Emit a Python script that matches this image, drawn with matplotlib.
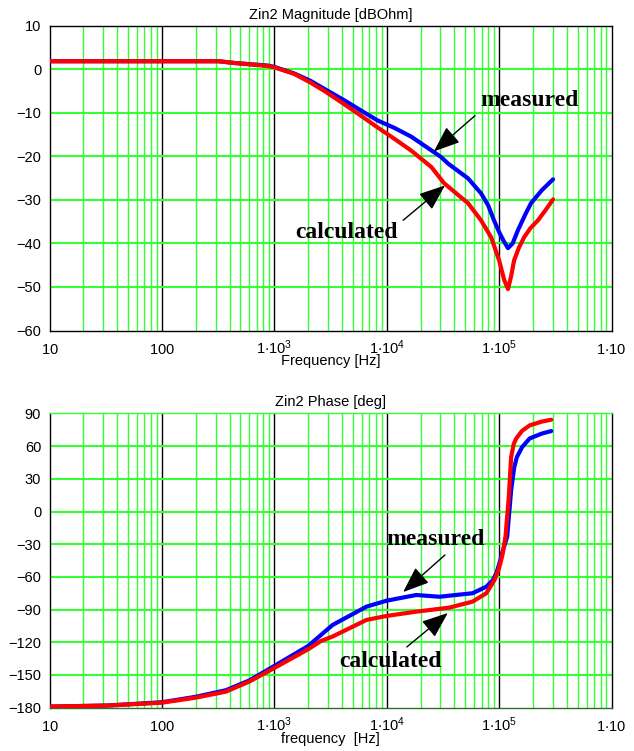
import matplotlib
matplotlib.use("Agg")
import matplotlib.pyplot as plt
import numpy as np

plt.rcParams["font.family"] = ["Liberation Sans", "DejaVu Sans"]
plt.rcParams["mathtext.fontset"] = "custom"
plt.rcParams["mathtext.rm"] = "Liberation Sans"
plt.rcParams["font.size"] = 10

## Data
# Magnitude [dBOhm]
mag_meas_f = [10, 320, 440, 880, 1000, 1500, 2100, 2900, 4150, 5900, 8300, 11700,
              16500, 23200, 30500, 35200, 53000, 69000, 80000, 90000, 100000,
              109000, 120000, 132000, 147000, 170000, 192000, 240000, 302000]
mag_meas = [1.8, 1.8, 1.4, 0.8, 0.5, -1.0, -2.7, -4.8, -7.1, -9.5, -11.8, -13.5,
            -15.5, -18.1, -20.2, -21.7, -25.1, -28.5, -31.3, -34.7, -37.4,
            -39.3, -41.1, -40.0, -37.0, -33.5, -30.8, -27.8, -25.3]
mag_calc_f = [10, 320, 440, 880, 1000, 1500, 2100, 2900, 4150, 5900, 8300, 11700,
              16500, 25000, 32400, 53000, 69000, 85000, 100000, 111000, 120000,
              128000, 136000, 150000, 167000, 190000, 222000, 260000, 302000]
mag_calc = [1.8, 1.8, 1.4, 0.7, 0.4, -1.1, -3.1, -5.3, -8.0, -10.7, -13.4, -16.0,
            -18.7, -22.5, -26.2, -30.8, -34.7, -38.6, -43.9, -48.4, -50.5,
            -47.5, -43.9, -41.0, -38.6, -36.5, -34.7, -32.3, -29.9]

# Phase [deg]
ph_meas_f = [10, 33, 100, 200, 370, 600, 1000, 2000, 2600, 3300, 6600, 10000,
             18300, 29400, 58000, 77000, 88000, 95000, 101000, 108000, 118000,
             128000, 136000, 144000, 160000, 187000, 240000, 291000]
ph_meas = [-179, -178, -175, -170, -164, -155, -141.7, -123.4, -113.3, -104.1,
           -87.3, -81.8, -76.6, -78.2, -75, -69, -63, -56, -47, -36, -23, 19.5,
           40, 50, 59, 67, 71.5, 73.8]
ph_calc_f = [10, 33, 100, 200, 370, 600, 1000, 2000, 2600, 3300, 6600, 10000,
             18300, 36000, 58000, 77000, 91000, 100000, 107000, 114000, 122000,
             128000, 135000, 142000, 160000, 187000, 240000, 291000]
ph_calc = [-179, -178, -175.4, -170.8, -165.3, -156, -143.6, -126.4, -118.8,
           -114.7, -99.5, -95.8, -91.9, -88.2, -82.7, -75, -62.8, -52, -40, -23,
           13.4, 50, 62, 67, 74, 79, 82.5, 84.2]

xticks = [10, 100, 1e3, 1e4, 1e5, 1e6]
xticklabels = [r"$\mathregular{10}$", r"$\mathregular{100}$",
               r"$\mathregular{1{\cdot}10^{3}}$", r"$\mathregular{1{\cdot}10^{4}}$",
               r"$\mathregular{1{\cdot}10^{5}}$", r"$\mathregular{1{\cdot}10}$"]
mag_ticks = [10, 0, -10, -20, -30, -40, -50, -60]
ph_ticks = [90, 60, 30, 0, -30, -60, -90, -120, -150, -180]

GREEN = "#33ff33"


def style_axes(ax, yticks, title, xlabel):
    ax.set_xscale("log")
    ax.set_xlim(10, 1e6)
    ax.set_ylim(yticks[-1], yticks[0])
    # minor green / decade black vertical grid
    for dec in [10, 100, 1e3, 1e4, 1e5]:
        for m in range(2, 10):
            ax.axvline(dec * m, color=GREEN, lw=1.0, zorder=1)
        if dec > 10:
            ax.axvline(dec, color="black", lw=1.0, zorder=1)
    for yv in yticks[1:-1]:
        ax.axhline(yv, color=GREEN, lw=1.5, zorder=1)
    ax.set_xticks(xticks)
    ax.set_xticklabels(xticklabels)
    ax.minorticks_off()
    ax.set_yticks(yticks)
    ax.tick_params(length=0, labelsize=10.5, pad=6)
    ax.tick_params(axis="x", pad=17)
    for lab in ax.get_xticklabels():
        lab.set_verticalalignment("baseline")
    for s in ax.spines.values():
        s.set_color("black")
        s.set_linewidth(1.0)
    ax.set_title(title, fontsize=10.5, pad=5)
    ax.set_xlabel(xlabel, fontsize=10.5, labelpad=-2)


fig = plt.figure(figsize=(6.34, 7.51), dpi=100)
ax1 = fig.add_axes([49.5 / 634, 1 - 330.5 / 751, 562 / 634, 305 / 751])
ax2 = fig.add_axes([49.5 / 634, 1 - 707.7 / 751, 562 / 634, 294.3 / 751])

line = dict(lw=3, solid_joinstyle="round", solid_capstyle="round")

## Magnitude
style_axes(ax1, mag_ticks, "Zin2 Magnitude [dBOhm]", "Frequency [Hz]")
ax1.plot(mag_meas_f, mag_meas, color="#0000ff", zorder=3, **line)
ax1.plot(mag_calc_f, mag_calc, color="#ff0000", zorder=4, **line)

aprops = dict(arrowstyle="-|>,head_length=0.9,head_width=0.35", color="black",
              lw=1.0, mutation_scale=18, shrinkA=0, shrinkB=0)
lbl = dict(fontfamily="Liberation Serif", fontweight="bold", fontsize=17,
           ha="center", va="center", zorder=6)

ax1.text(1.88e5, -7.3, "measured", **lbl)
ax1.annotate("", xy=(2.63e4, -18.9), xytext=(6.1e4, -10.7), arrowprops=aprops, zorder=6)
ax1.text(4.43e3, -37.4, "calculated", **lbl)
ax1.annotate("", xy=(3.3e4, -26.7), xytext=(1.4e4, -34.7), arrowprops=aprops, zorder=6)

## Phase
style_axes(ax2, ph_ticks, "Zin2 Phase [deg]", "frequency  [Hz]")
ax2.spines["top"].set_color(GREEN)
ax2.spines["bottom"].set_color("#2d6e2d")
ax2.plot(ph_meas_f, ph_meas, color="#0000ff", zorder=3, **line)
ax2.plot(ph_calc_f, ph_calc, color="#ff0000", zorder=4, **line)

ax2.text(2.69e4, -26.1, "measured", **lbl)
ax2.annotate("", xy=(1.4e4, -73.9), xytext=(3.3e4, -39.9), arrowprops=aprops, zorder=6)
ax2.text(1.07e4, -137.2, "calculated", **lbl)
ax2.annotate("", xy=(3.5e4, -93.1), xytext=(1.51e4, -124.3), arrowprops=aprops, zorder=6)

fig.savefig("out.png", dpi=100)
